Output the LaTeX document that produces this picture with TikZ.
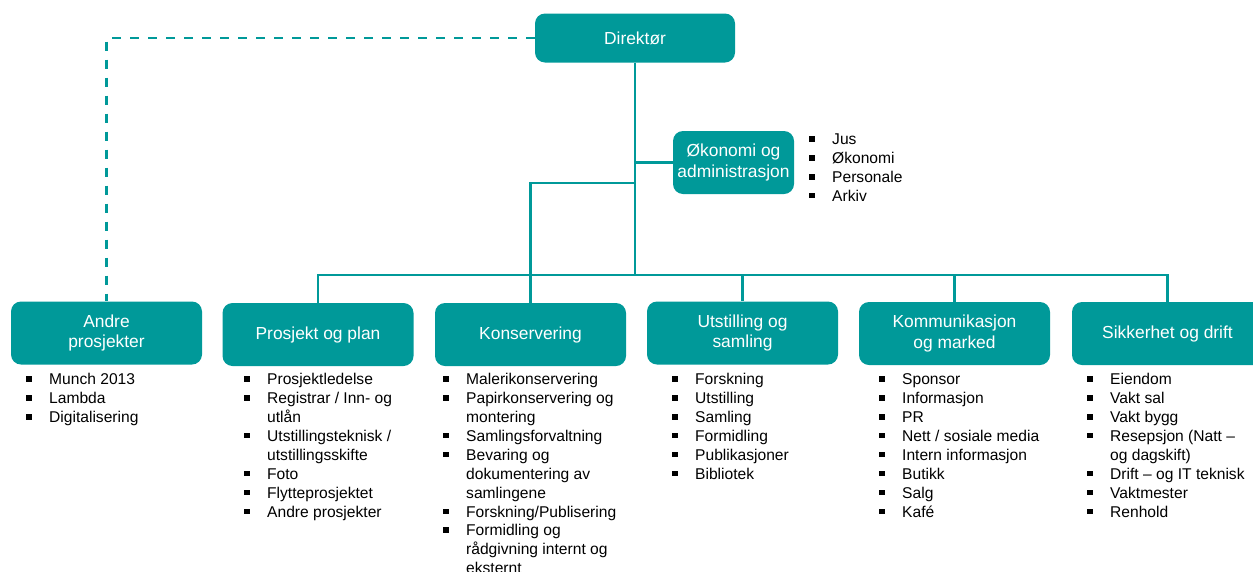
\documentclass[tikz,border=0pt]{standalone}
\usepackage{fontspec}
\setmainfont{Liberation Sans}
\usetikzlibrary{positioning}
\definecolor{petrol}{RGB}{0,153,153}
\newcommand{\blt}{\makebox[23pt][l]{\raisebox{3pt}{\rule{5.5pt}{5.5pt}}}}
\newcommand{\cnt}{\hspace*{23pt}}

\begin{document}
\begin{tikzpicture}[x=1pt,y=-1pt,
		unit/.style={fill=petrol, rounded corners=10pt, text=white, minimum width=191pt,
			minimum height=63pt, inner sep=0pt, align=center, font=\fontsize{17.4}{20.5}\selectfont},
		link/.style={draw=petrol, line width=2.7pt},
		liste/.style={anchor=north west, inner sep=0pt, align=left, font=\fontsize{15.6}{18.9}\selectfont}]
			
			\useasboundingbox (0,0) rectangle (1253,571);
			\clip (0,0) rectangle (1253,571);
			
			\coordinate (bar) at (635,275);% main bar
			\coordinate (gren) at (635,183);% branch to Konservering
			
			% units
			\node[unit, minimum width=200pt, minimum height=49pt] (dir) at (635,38) {Direktør};
			\node[unit, minimum width=121pt] (oko) at (733.5,162.5) {Økonomi og\\administrasjon};
			\node[unit] (andre) at (106.5,333) {Andre\\prosjekter};
			\node[unit] (prosj) at (318,334.5) {Prosjekt og plan};
			\node[unit] (kons) at (530.5,334.5) {Konservering};
			\node[unit] (utst) at (742.5,333) {Utstilling og\\samling};
			\node[unit] (komm) at (954.5,333.5) {Kommunikasjon\\og marked};
			\node[unit] (sikk) at (1167.5,333.5) {Sikkerhet og drift};
			
			% connectors
			\draw[link] (dir.south) -- (bar);
			\draw[link] (dir.south |- oko.west) -- (oko.west);
			\draw[link] (gren) -| (kons.north);
			\draw[link] (bar) -| (prosj.north);
			\draw[link] (bar) -| (utst.north);
			\draw[link] (bar) -| (komm.north);
			\draw[link] (bar) -| (sikk.north);
			\draw[link, dash pattern=on 9pt off 9pt] (dir.west) -| (andre.north);
			
			% lists
			\node[liste] (okol) at (809,131.3) {\strut\blt Jus\\\blt Økonomi\\\blt Personale\\\blt Arkiv};
			\node[liste] (andrel) at (26,371.3) {\strut\blt Munch 2013\\\blt Lambda\\\blt Digitalisering};
			\node[liste] (prosjl) at (244,371.3) {\strut\blt Prosjektledelse\\\blt Registrar / Inn- og\\\cnt utlån\\
				\blt Utstillingsteknisk /\\\cnt utstillingsskifte\\\blt Foto\\\blt Flytteprosjektet\\\blt Andre prosjekter};
			\node[liste] (konsl) at (443,371.3) {\strut\blt Malerikonservering\\\blt Papirkonservering og\\\cnt montering\\
				\blt Samlingsforvaltning\\\blt Bevaring og\\\cnt dokumentering av\\\cnt samlingene\\
				\blt Forskning/Publisering\\\blt Formidling og\\\cnt rådgivning internt og\\\cnt eksternt};
			\node[liste] (utstl) at (672,371.3) {\strut\blt Forskning\\\blt Utstilling\\\blt Samling\\\blt Formidling\\
				\blt Publikasjoner\\\blt Bibliotek};
			\node[liste] (komml) at (879,371.3) {\strut\blt Sponsor\\\blt Informasjon\\\blt PR\\\blt Nett / sosiale media\\
				\blt Intern informasjon\\\blt Butikk\\\blt Salg\\\blt Kafé};
			\node[liste] (sikkl) at (1087,371.3) {\strut\blt Eiendom\\\blt Vakt sal\\\blt Vakt bygg\\\blt Resepsjon (Natt –\\
				\cnt og dagskift)\\\blt Drift – og IT teknisk\\\blt Vaktmester\\\blt Renhold};
\end{tikzpicture}
\end{document}
